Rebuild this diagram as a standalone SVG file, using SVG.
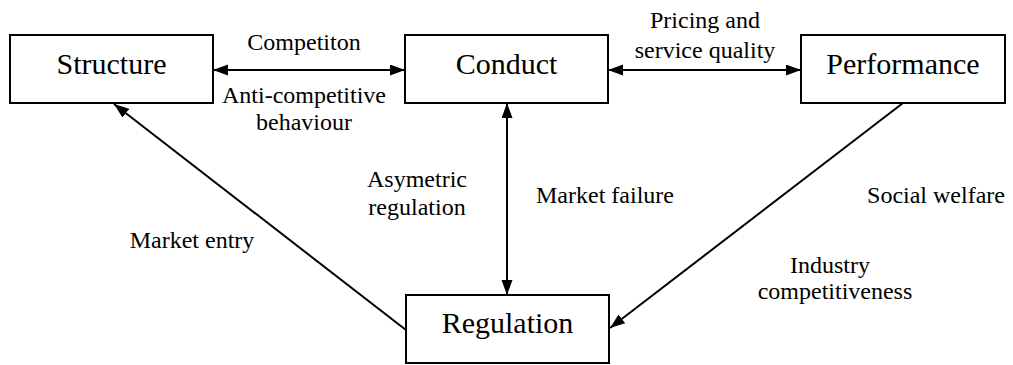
<svg xmlns="http://www.w3.org/2000/svg" width="1013" height="365" viewBox="0 0 1013 365">
<style>
.box{fill:#fff;stroke:#000;stroke-width:2}
.nt{font-family:'Liberation Serif','Times New Roman',serif;font-size:30px;fill:#000;text-anchor:middle}
.lt{font-family:'Liberation Serif','Times New Roman',serif;font-size:24px;fill:#000;text-anchor:middle}
.c{stroke:#000;stroke-width:2;fill:none}
</style>
<defs>
<marker id="ah" markerUnits="userSpaceOnUse" markerWidth="16" markerHeight="12" refX="15" refY="5.5" orient="auto-start-reverse">
<path d="M0,0 L15,5.5 L0,11 z" fill="#000"/>
</marker>
</defs>
<g id="connectors">
<line class="c" x1="213" y1="70" x2="405" y2="70" marker-start="url(#ah)" marker-end="url(#ah)"/>
<line class="c" x1="608" y1="70" x2="801" y2="70" marker-start="url(#ah)" marker-end="url(#ah)"/>
<line class="c" x1="507" y1="103" x2="507" y2="295" marker-start="url(#ah)" marker-end="url(#ah)"/>
<line class="c" x1="406" y1="330" x2="114" y2="104" marker-end="url(#ah)"/>
<line class="c" x1="903" y1="103" x2="610" y2="328" marker-end="url(#ah)"/>
<text class="lt" x="304" y="50">Competiton</text>
<text class="lt" x="304" y="103">Anti-competitive</text>
<text class="lt" x="304" y="130">behaviour</text>
<text class="lt" x="705" y="28">Pricing and</text>
<text class="lt" x="705" y="58">service quality</text>
<text class="lt" x="417" y="187">Asymetric</text>
<text class="lt" x="417" y="215">regulation</text>
<text class="lt" x="192" y="248">Market entry</text>
<text class="lt" x="605" y="203">Market failure</text>
<text class="lt" x="936" y="203">Social welfare</text>
<text class="lt" x="830" y="273">Industry</text>
<text class="lt" x="835" y="299">competitiveness</text>
</g>
<g id="structure"><rect class="box" x="10" y="35" width="203" height="68"/><text class="nt" x="111.5" y="74">Structure</text></g>
<g id="conduct"><rect class="box" x="405" y="35" width="203" height="68"/><text class="nt" x="506.5" y="74">Conduct</text></g>
<g id="performance"><rect class="box" x="801" y="35" width="204" height="68"/><text class="nt" x="903" y="74">Performance</text></g>
<g id="regulation"><rect class="box" x="406" y="295" width="203" height="68"/><text class="nt" x="507.5" y="333">Regulation</text></g>
</svg>
